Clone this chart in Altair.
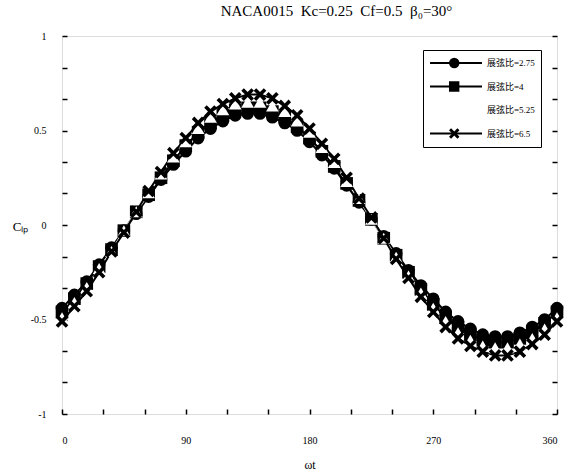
import altair as alt
import pandas as pd

theta = [0, 9, 18, 27, 36, 45, 54, 63, 72, 81, 90, 99, 108, 117, 126, 135, 144, 153, 162, 171,
         180, 189, 198, 207, 216, 225, 234, 243, 252, 261, 270, 279, 288, 297, 306, 315, 324, 333,
         342, 351, 360]

s_275 = [-0.44, -0.37, -0.30, -0.21, -0.12, -0.03, 0.06, 0.15, 0.24, 0.32, 0.39, 0.46, 0.51, 0.55,
         0.58, 0.59, 0.59, 0.57, 0.54, 0.50, 0.44, 0.37, 0.30, 0.21, 0.12, 0.03, -0.06, -0.15, -0.24,
         -0.32, -0.39, -0.46, -0.51, -0.55, -0.58, -0.59, -0.59, -0.57, -0.54, -0.50, -0.44]
s_4 = [-0.46, -0.39, -0.31, -0.22, -0.13, -0.03, 0.07, 0.16, 0.25, 0.34, 0.42, 0.49, 0.54, 0.58,
       0.61, 0.62, 0.62, 0.60, 0.57, 0.52, 0.46, 0.39, 0.31, 0.22, 0.13, 0.03, -0.07, -0.16, -0.25,
       -0.34, -0.42, -0.49, -0.54, -0.58, -0.61, -0.62, -0.62, -0.60, -0.57, -0.52, -0.46]
s_525 = [-0.49, -0.41, -0.33, -0.23, -0.14, -0.03, 0.07, 0.17, 0.27, 0.36, 0.44, 0.51, 0.57, 0.61,
         0.64, 0.65, 0.65, 0.63, 0.60, 0.55, 0.49, 0.41, 0.33, 0.23, 0.14, 0.03, -0.07, -0.17, -0.27,
         -0.36, -0.44, -0.51, -0.57, -0.61, -0.64, -0.65, -0.65, -0.63, -0.60, -0.55, -0.49]
s_65 = [-0.51, -0.43, -0.35, -0.25, -0.14, -0.04, 0.07, 0.18, 0.28, 0.38, 0.46, 0.54, 0.60, 0.64,
        0.67, 0.69, 0.69, 0.67, 0.63, 0.58, 0.51, 0.43, 0.35, 0.25, 0.14, 0.04, -0.07, -0.18, -0.28,
        -0.38, -0.46, -0.54, -0.60, -0.64, -0.67, -0.69, -0.69, -0.67, -0.63, -0.58, -0.51]

labels = ["展弦比=2.75", "展弦比=4", "展弦比=5.25", "展弦比=6.5"]
series_values = [s_275, s_4, s_525, s_65]

x_label_values = [0, 90, 180, 270, 360]
x_tick_values = [0, 30, 60, 90, 120, 150, 180, 210, 240, 270, 300, 330, 360]
y_label_values = [-1, -0.5, 0, 0.5, 1]
y_tick_values = [-1, -0.8333, -0.6667, -0.5, -0.3333, -0.1667, 0, 0.1667, 0.3333, 0.5,
                 0.6667, 0.8333, 1]

rows = []
for lab, vals in zip(labels, series_values):
    for t, v in zip(theta, vals):
        rows.append({"theta": t, "cp": v, "series": lab, "marker": lab})
df = pd.DataFrame(rows)

SERIF = "Liberation Serif"
LEG_FONT = "Liberation Serif, Noto Sans CJK SC"
X_PATH = ("M-1,-0.6L-0.6,-1L0,-0.4L0.6,-1L1,-0.6L0.4,0L1,0.6L0.6,1L0,0.4L-0.6,1L-1,0.6L-0.4,0Z")
NB = "\u00a0"

xscale = alt.Scale(domain=[0, 360], nice=False, zero=False)
yscale = alt.Scale(domain=[-1, 1], nice=False, zero=False)

lines = alt.Chart(df).mark_line(strokeWidth=2).encode(
    x=alt.X("theta:Q", scale=xscale,
            axis=alt.Axis(orient="bottom", values=x_label_values, ticks=False, domain=False,
                          grid=False, labelPadding=21, title="ωt", titlePadding=14,
                          titleFont=SERIF, titleFontSize=12, titleFontWeight="normal",
                          labelFont=SERIF, labelFontSize=10)),
    y=alt.Y("cp:Q", scale=yscale,
            axis=alt.Axis(orient="left", values=y_label_values, ticks=False, domain=False,
                          grid=False, labelPadding=16, labelExpr="toString(datum.value)",
                          title="Cₗₚ", titleAngle=0, titleX=-42, titleY=190,
                          titleAlign="center", titleBaseline="middle",
                          titleFont=SERIF, titleFontSize=13, titleFontWeight="normal",
                          titleColor="black",
                          labelFont=SERIF, labelFontSize=10)),
    stroke=alt.Stroke("series:N",
                      scale=alt.Scale(domain=labels, range=["black", "black", "white", "black"]),
                      legend=alt.Legend(title=None, orient="none", legendX=361, legendY=14,
                                        symbolType="stroke", symbolSize=2704,
                                        symbolStrokeWidth=2, labelFont=LEG_FONT, labelFontSize=9,
                                        labelOffset=4, clipHeight=14, rowPadding=9.5,
                                        padding=6, strokeColor="black", labelLimit=200,
                                        labelColor="black")),
)

marker_legend = alt.Legend(title=None, orient="none", legendX=380.75, legendY=14,
                           symbolSize=110, labelExpr="''", clipHeight=14,
                           rowPadding=9.5, padding=6, labelFontSize=9,
                           labelOffset=0, symbolStrokeWidth=0)

points = alt.Chart(df).mark_point(filled=True, size=160, opacity=1).encode(
    x=alt.X("theta:Q", scale=xscale,
            axis=alt.Axis(orient="bottom", values=x_tick_values, labels=False, domain=False,
                          grid=False, ticks=True, tickSize=5, tickWidth=1.5, tickColor="black",
                          offset=-5, title=None)),
    y=alt.Y("cp:Q", scale=yscale,
            axis=alt.Axis(orient="left", values=y_tick_values, labels=False, domain=False,
                          grid=False, ticks=True, tickSize=5, tickWidth=1.5, tickColor="black",
                          offset=-5, title=None)),
    shape=alt.Shape("marker:N",
                    scale=alt.Scale(range=["circle", "square", "triangle-up", X_PATH]),
                    legend=marker_legend),
    fill=alt.Fill("marker:N",
                  scale=alt.Scale(range=["black", "black", "white", "black"]),
                  legend=marker_legend),
)

right_ticks = alt.Chart(df).mark_point(opacity=0).encode(
    x=alt.X("theta:Q", scale=xscale, axis=None),
    y=alt.Y("cp:Q", scale=yscale,
            axis=alt.Axis(orient="right", values=y_tick_values, labels=False, domain=False,
                          grid=False, ticks=True, tickSize=5, tickWidth=1.5, tickColor="black",
                          offset=-5, title=None)),
)

title_text = f"NACA0015{NB}{NB}Kc=0.25{NB}{NB}Cf=0.5{NB}{NB}β₀=30°"

chart = alt.layer(lines, points, right_ticks).resolve_axis(
    x="independent", y="independent"
).properties(
    width=495,
    height=378,
    autosize=alt.AutoSizeParams(type="none"),
    padding={"left": 62, "top": 36, "right": 27, "bottom": 59},
    title=alt.TitleParams(title_text, font=SERIF, fontSize=15,
                          fontWeight="normal", color="black", offset=12, dx=27),
).configure_view(
    stroke="black", strokeWidth=3
).configure_axis(
    labelColor="black", titleColor="black", labelFont=SERIF, titleFont=SERIF
).configure(background="white")

chart.save("out.html", embed_options={"renderer": "svg", "actions": False})
